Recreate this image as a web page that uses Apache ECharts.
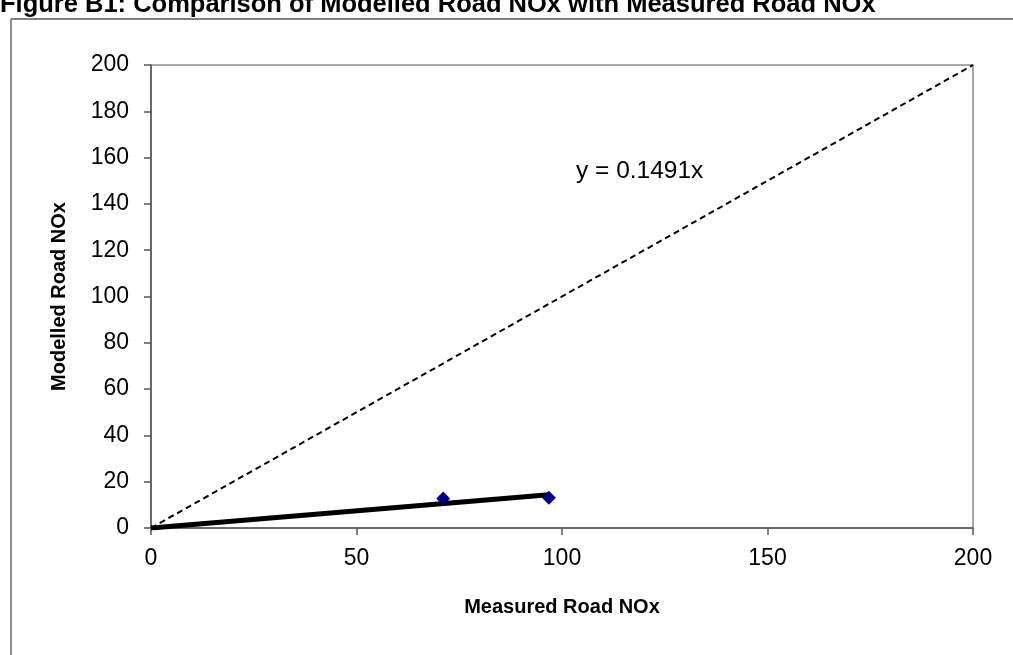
<!DOCTYPE html>
<html>
<head>
<meta charset="utf-8">
<script src="https://cdn.jsdelivr.net/npm/echarts@6/dist/echarts.min.js"></script>
<style>
  html, body { margin: 0; padding: 0; background: #fff; }
  #chart { width: 1013px; height: 655px; }
</style>
</head>
<body>
<div id="chart"></div>
<script>
// measured vs modelled road NOx
const measured = [71.1, 96.8];
const modelled = [12.7, 13.1];
// fitted trend line ends (y = 0.1491x)
const trendX = [0, 96.8];
const trendY = [0, 14.4];
// 1:1 reference line
const refX = [0, 200];
const refY = [0, 200];
const equation = 'y = 0.1491x';

const font = 'Liberation Sans, Arial, sans-serif';
const chart = echarts.init(document.getElementById('chart'));

chart.setOption({
  backgroundColor: '#fff',
  animation: false,
  grid: { left: 151, right: 40, top: 65, bottom: 127, show: true, borderColor: '#8c8c8c', borderWidth: 1.5 },
  xAxis: {
    type: 'value', min: 0, max: 200, interval: 50,
    name: 'Measured Road NOx', nameLocation: 'middle', nameGap: 69,
    nameTextStyle: { fontFamily: font, fontWeight: 'bold', fontSize: 20, color: '#000' },
    axisLine: { lineStyle: { color: '#555', width: 1.5 } },
    axisTick: { inside: false, length: 7, lineStyle: { color: '#555', width: 1.5 } },
    axisLabel: { fontFamily: font, fontSize: 23, color: '#000', margin: 19 },
    splitLine: { show: false }
  },
  yAxis: {
    type: 'value', min: 0, max: 200, interval: 20,
    name: 'Modelled Road NOx', nameLocation: 'middle', nameGap: 82,
    nameTextStyle: { fontFamily: font, fontWeight: 'bold', fontSize: 20, color: '#000' },
    axisLine: { show: true, lineStyle: { color: '#555', width: 1.5 } },
    axisTick: { show: true, length: 7, lineStyle: { color: '#555', width: 1.5 } },
    axisLabel: { fontFamily: font, fontSize: 23, color: '#000', margin: 22 },
    splitLine: { show: false }
  },
  graphic: [
    { type: 'line', shape: { x1: 11, y1: 19, x2: 1013, y2: 19 }, style: { stroke: '#555', lineWidth: 1.5 } },
    { type: 'line', shape: { x1: 11, y1: 19, x2: 11, y2: 655 }, style: { stroke: '#666', lineWidth: 1.5 } },
    { type: 'text', x: 0, y: 5,
      style: { text: 'Figure B1: Comparison of Modelled Road NOx with Measured Road NOx',
               font: 'bold 25.5px ' + font, fill: '#000', verticalAlign: 'middle' } },
    { type: 'text', x: 576, y: 171,
      style: { text: equation, font: '24.5px ' + font, fill: '#000', verticalAlign: 'middle' } }
  ],
  series: [
    {
      type: 'line', data: refX.map((x, i) => [x, refY[i]]),
      symbol: 'none', silent: true,
      lineStyle: { color: '#000', width: 2, type: [6, 4] }, z: 2
    },
    {
      type: 'line', data: trendX.map((x, i) => [x, trendY[i]]),
      symbol: 'none', silent: true,
      lineStyle: { color: '#000', width: 5 }, z: 3
    },
    {
      type: 'scatter', data: measured.map((x, i) => [x, modelled[i]]),
      symbol: 'diamond', symbolSize: 14,
      itemStyle: { color: '#000080', opacity: 1 }, z: 4
    }
  ]
});
</script>
</body>
</html>
